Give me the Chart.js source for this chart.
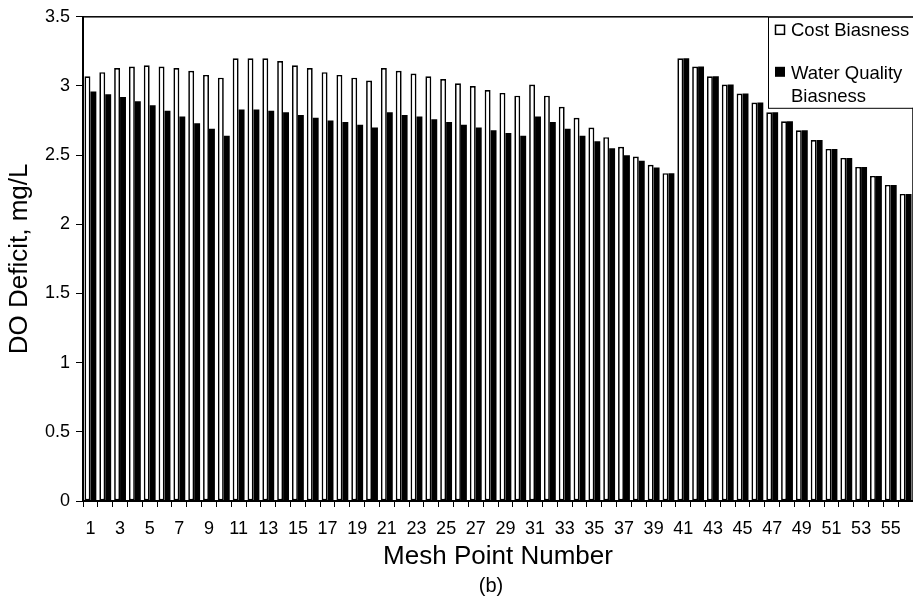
<!DOCTYPE html>
<html>
<head>
<meta charset="utf-8">
<script src="https://cdn.jsdelivr.net/npm/chart.js@4.4.1/dist/chart.umd.min.js"></script>
<style>
  body { margin: 0; background: #fff; }
</style>
</head>
<body>
<canvas id="barGraph" width="913" height="605"></canvas>
<script>
const meshPoints = Array.from({ length: 56 }, (_, i) => String(i + 1));

const costBias = [
  3.07, 3.10, 3.13, 3.14, 3.15, 3.14, 3.13, 3.11, 3.08, 3.06,
  3.20, 3.20, 3.20, 3.18, 3.15, 3.13, 3.10, 3.08, 3.06, 3.04,
  3.13, 3.11, 3.09, 3.07, 3.05, 3.02, 3.00, 2.97, 2.95, 2.93,
  3.01, 2.93, 2.85, 2.77, 2.70, 2.63, 2.56, 2.49, 2.43, 2.37,
  3.20, 3.14, 3.07, 3.01, 2.945, 2.88, 2.81, 2.745, 2.68, 2.61,
  2.545, 2.48, 2.415, 2.35, 2.285, 2.22
];

const waterQualityBias = [
  2.96, 2.94, 2.92, 2.89, 2.86, 2.82, 2.78, 2.73, 2.69, 2.64,
  2.83, 2.83, 2.82, 2.81, 2.79, 2.77, 2.75, 2.74, 2.72, 2.70,
  2.81, 2.79, 2.78, 2.76, 2.74, 2.72, 2.70, 2.68, 2.66, 2.64,
  2.78, 2.74, 2.69, 2.64, 2.60, 2.55, 2.50, 2.46, 2.41, 2.37,
  3.20, 3.14, 3.07, 3.01, 2.945, 2.88, 2.81, 2.745, 2.68, 2.61,
  2.545, 2.48, 2.415, 2.35, 2.285, 2.22
];

const FONT = "'Liberation Sans', Arial, sans-serif";

// plot frame (top + right edges like the Excel box)
const frame = {
  id: 'frame',
  afterDraw(chart) {
    const { ctx, chartArea: a } = chart;
    ctx.save();
    ctx.strokeStyle = '#000';
    ctx.lineWidth = 1.5;
    ctx.strokeRect(a.left, a.top, a.right - a.left, a.bottom - a.top);
    ctx.restore();
  }
};

// legend box in the top right corner, with wrapped label
const boxLegend = {
  id: 'boxLegend',
  afterDraw(chart) {
    const { ctx, chartArea: a } = chart;
    const left = a.right - 145;
    const top = a.top;
    ctx.save();
    ctx.fillStyle = '#fff';
    ctx.fillRect(left, top, a.right - left, 91);
    ctx.strokeStyle = '#000';
    ctx.lineWidth = 1;
    ctx.strokeRect(left + 0.5, top + 0.5, a.right - left, 91);

    ctx.font = '18.5px ' + FONT;
    ctx.textBaseline = 'middle';
    ctx.fillStyle = '#000';
    // Cost Biasness
    ctx.lineWidth = 1.5;
    ctx.strokeRect(left + 7.5, top + 8.5, 9, 9);
    ctx.fillText('Cost Biasness', left + 23, top + 14);
    // Water Quality Biasness
    ctx.fillRect(left + 7, top + 50, 10, 10);
    ctx.fillText('Water Quality', left + 23, top + 57);
    ctx.fillText('Biasness', left + 23, top + 80);
    ctx.restore();
  }
};

// "(b)" panel caption
const caption = {
  id: 'caption',
  afterDraw(chart) {
    const { ctx, chartArea: a } = chart;
    ctx.save();
    ctx.font = '20px ' + FONT;
    ctx.fillStyle = '#000';
    ctx.textAlign = 'center';
    ctx.textBaseline = 'middle';
    ctx.fillText('(b)', (a.left + a.right) / 2 - 7, 586);
    ctx.restore();
  }
};

const ctx = document.getElementById('barGraph').getContext('2d');
const barGraph = new Chart(ctx, {
  type: 'bar',
  data: {
    labels: meshPoints,
    datasets: [
      {
        label: 'Cost Biasness',
        data: costBias,
        backgroundColor: '#fff',
        borderColor: '#000',
        borderWidth: 1.7,
        borderSkipped: false
      },
      {
        label: 'Water Quality Biasness',
        data: waterQualityBias,
        backgroundColor: '#000',
        borderColor: '#000',
        borderWidth: 0
      }
    ]
  },
  options: {
    responsive: false,
    animation: false,
    categoryPercentage: 0.8,
    barPercentage: 1.0,
    layout: { padding: { top: 15, right: 0, left: 0, bottom: 0 } },
    plugins: {
      legend: { display: false },
      tooltip: { enabled: false },
      title: { display: false }
    },
    scales: {
      x: {
        grid: {
          offset: true,
          drawOnChartArea: false,
          drawTicks: true,
          tickLength: 6,
          color: '#000',
          lineWidth: 1
        },
        border: { display: true, color: '#000', width: 2 },
        ticks: {
          autoSkip: false,
          maxRotation: 0,
          minRotation: 0,
          padding: 11,
          color: '#000',
          font: { family: FONT, size: 18 },
          callback: (value, index) => index % 2 === 0 ? meshPoints[index] : ''
        },
        title: {
          display: true,
          text: 'Mesh Point Number',
          color: '#000',
          font: { family: FONT, size: 26 },
          padding: { top: 4, bottom: 33 }
        },
        afterFit: (scale) => {
          scale.height = 104;
          scale.paddingLeft = 0;
          scale.paddingRight = 0;
        }
      },
      y: {
        min: 0,
        max: 3.5,
        ticks: {
          stepSize: 0.5,
          padding: 6,
          color: '#000',
          font: { family: FONT, size: 18 },
          callback: (value) => String(value)
        },
        grid: {
          drawOnChartArea: false,
          drawTicks: true,
          tickLength: 7,
          color: '#000'
        },
        border: { display: true, color: '#000', width: 2 },
        title: {
          display: true,
          text: 'DO Deficit, mg/L',
          color: '#000',
          font: { family: FONT, size: 26 },
          padding: { top: 4, bottom: 0 }
        },
        afterFit: (scale) => { scale.width = 83; }
      }
    }
  },
  plugins: [frame, boxLegend, caption]
});
</script>
</body>
</html>
